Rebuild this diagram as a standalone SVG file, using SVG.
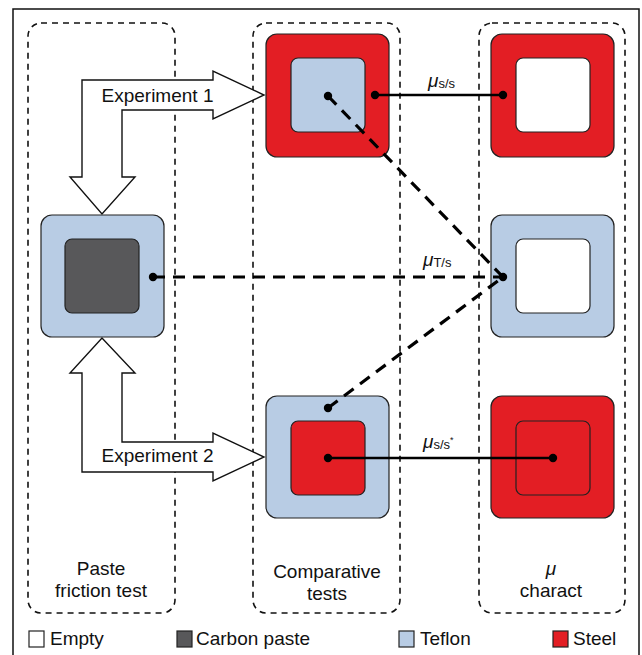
<svg xmlns="http://www.w3.org/2000/svg" width="642" height="655" viewBox="0 0 642 655">
<style>
text{font-family:"Liberation Sans",Arial,sans-serif;font-size:19px;fill:#111}
.col{fill:none;stroke:#111;stroke-width:1.6;stroke-dasharray:6,5}
.o{stroke:#222;stroke-width:1.2}
.red{fill:#e31e24}
.blue{fill:#b8cce4}
.dark{fill:#58585a}
.white{fill:#fff}
.solid{stroke:#000;stroke-width:2.5;fill:none}
.dash{stroke:#000;stroke-width:3.2;fill:none;stroke-dasharray:12,8}
.arrow{fill:#fff;stroke:#111;stroke-width:1.4;stroke-linejoin:miter}
.mu{font-style:italic}
.sub{font-size:13px}
</style>
<rect x="0" y="0" width="642" height="655" fill="#fff"/>
<rect x="13" y="9" width="626" height="660" fill="none" stroke="#111" stroke-width="1.5"/>
<g id="columns">
<rect class="col" x="28" y="23" width="147" height="590" rx="13"/>
<rect class="col" x="253" y="23" width="147" height="590" rx="13"/>
<rect class="col" x="479" y="23" width="146" height="590" rx="13"/>
</g>
<g id="titles" text-anchor="middle">
<text x="101" y="575">Paste</text>
<text x="101" y="597">friction test</text>
<text x="327" y="578">Comparative</text>
<text x="327" y="600">tests</text>
<text x="551" y="575" class="mu">μ</text>
<text x="551" y="597">charact</text>
</g>
<g id="arrows">
<polygon id="exp1" class="arrow" points="82,80 213,80 213,71 264,95 213,119 213,110 122,110 122,177 135,177 102,214 70,177 82,177"/>
<text x="157.5" y="102" text-anchor="middle">Experiment 1</text>
<polygon id="exp2" class="arrow" points="82,472 213,472 213,481 264,457 213,433 213,442 122,442 122,373 135,373 102,338 70,373 82,373"/>
<text x="157.5" y="462" text-anchor="middle">Experiment 2</text>
</g>
<g id="node-top-mid">
<rect class="red o" x="266" y="34" width="123" height="123" rx="11"/>
<rect class="blue o" x="291" y="58" width="74" height="74" rx="7"/>
</g>
<g id="node-top-right">
<rect class="red o" x="491" y="34" width="123" height="123" rx="11"/>
<rect class="white o" x="516" y="58" width="74" height="74" rx="7"/>
</g>
<g id="node-mid-left">
<rect class="blue o" x="41" y="215" width="123" height="122" rx="11"/>
<rect class="dark o" x="65" y="239" width="74" height="74" rx="7"/>
</g>
<g id="node-mid-right">
<rect class="blue o" x="491" y="215" width="123" height="122" rx="11"/>
<rect class="white o" x="516" y="239" width="74" height="74" rx="7"/>
</g>
<g id="node-bot-mid">
<rect class="blue o" x="266" y="396" width="123" height="122" rx="11"/>
<rect class="red o" x="291" y="421" width="74" height="74" rx="7"/>
</g>
<g id="node-bot-right">
<rect class="red o" x="491" y="396" width="123" height="122" rx="11"/>
<rect class="red o" x="516" y="421" width="74" height="74" rx="7"/>
</g>
<g id="connectors">
<line class="solid" x1="375" y1="95" x2="503" y2="95"/>
<line class="dash" x1="328" y1="96" x2="503" y2="277"/>
<line class="dash" x1="153" y1="277" x2="503" y2="277"/>
<line class="dash" x1="328" y1="408" x2="503" y2="277"/>
<line class="solid" x1="328" y1="458" x2="553" y2="458"/>
<g fill="#000">
<circle cx="375" cy="95" r="4.2"/>
<circle cx="503" cy="95" r="4.2"/>
<circle cx="328" cy="96" r="4.2"/>
<circle cx="153" cy="277" r="4.2"/>
<circle cx="503" cy="277" r="4.2"/>
<circle cx="328" cy="408" r="4.2"/>
<circle cx="328" cy="458" r="4.2"/>
<circle cx="553" cy="458" r="4.2"/>
</g>
<text x="428" y="87"><tspan class="mu">μ</tspan><tspan class="sub" dy="1">s/s</tspan></text>
<text x="423" y="266"><tspan class="mu">μ</tspan><tspan class="sub" dy="1">T/s</tspan></text>
<text x="423" y="448"><tspan class="mu">μ</tspan><tspan class="sub" dy="1">s/s</tspan><tspan font-size="9" dy="-6">*</tspan></text>
</g>
<g id="legend">
<rect class="white o" x="29" y="631" width="15" height="16"/>
<text x="50" y="645">Empty</text>
<rect class="dark o" x="177" y="631" width="15" height="16"/>
<text x="196" y="645">Carbon paste</text>
<rect class="blue o" x="399" y="631" width="15" height="16"/>
<text x="420" y="645">Teflon</text>
<rect class="red o" x="553" y="631" width="15" height="16"/>
<text x="573" y="645">Steel</text>
</g>
</svg>
